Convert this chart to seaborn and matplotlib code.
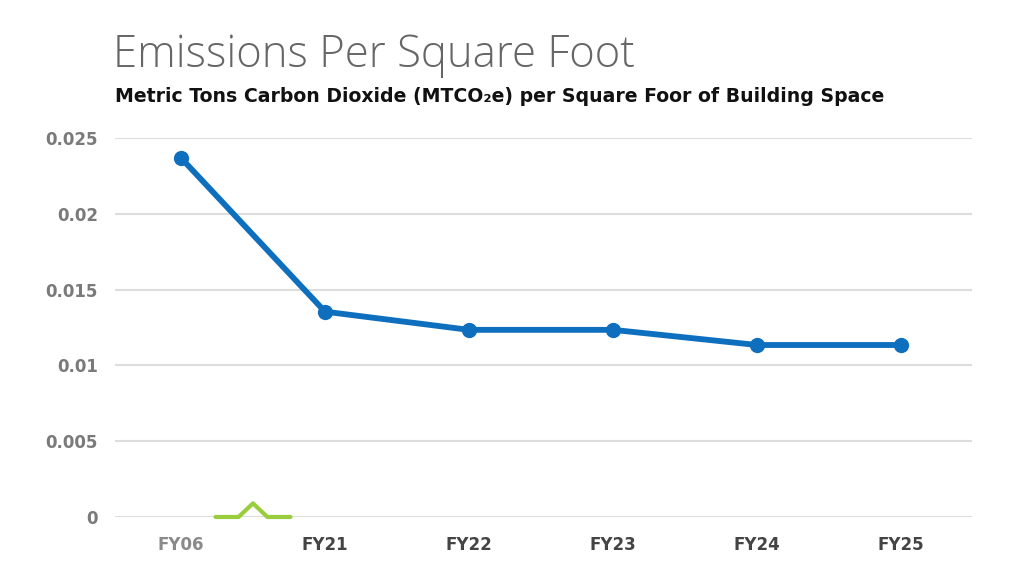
from matplotlib import pyplot as plt
import seaborn as sns
import pandas as pd

sns.set_theme(style="whitegrid")
plt.rcParams['font.family'] = ['DejaVu Sans']

# Data
years = ["FY06", "FY21", "FY22", "FY23", "FY24", "FY25"]
emissions = [0.0237, 0.01355, 0.01235, 0.01235, 0.01135, 0.01135]
y_ticks = [0, 0.005, 0.01, 0.015, 0.02, 0.025]
y_tick_labels = ["0", "0.005", "0.01", "0.015", "0.02", "0.025"]

# axis-break marker between FY06 and FY21
break_x = [0.24, 0.4, 0.5, 0.6, 0.76]
break_y = [0, 0, 0.0009, 0, 0]

df = pd.DataFrame({"Year": years, "Emissions": emissions})
df["pos"] = range(len(years))

fig = plt.figure(figsize=(10.24, 5.71), dpi=100)
ax = fig.add_axes([0.112, 0.0946, 0.837, 0.6634])

sns.lineplot(data=df, x="pos", y="Emissions", color="#0f6fbf", linewidth=4.2,
             marker="o", markersize=11, markeredgewidth=0, ax=ax, clip_on=False, zorder=3)
ax.plot(break_x, break_y, color="#9acd3c", linewidth=3, zorder=4, clip_on=False)

ax.set_xlim(-0.46, 5.49)
ax.set_ylim(0, 0.025)
ax.set_yticks(y_ticks)
ax.set_yticklabels(y_tick_labels, fontsize=12, fontweight="bold", color="#7a7a7a")
ax.set_xticks(df["pos"])
ax.set_xticklabels(years, fontsize=12, fontweight="bold", color="#444444")
ax.get_xticklabels()[0].set_color("#8a8a8a")
ax.tick_params(axis="y", pad=12, length=0)
ax.tick_params(axis="x", pad=14, length=0)
ax.set_xlabel("")
ax.set_ylabel("")

ax.grid(False, axis="x")
ax.yaxis.grid(True, color="#dddddd", linewidth=1.5)
for s in ax.spines.values():
    s.set_visible(False)
ax.set_facecolor("white")

fig.text(0.110, 0.883, "Emissions Per Square Foot", fontsize=31.5, fontweight="light",
         color="#666666", ha="left", va="baseline", family="Open Sans")
fig.text(0.112, 0.822, "Metric Tons Carbon Dioxide (MTCO\u2082e) per Square Foor of Building Space",
         fontsize=13.6, fontweight="bold", color="#111111", ha="left", va="baseline")

plt.savefig("out.png", dpi=100)
